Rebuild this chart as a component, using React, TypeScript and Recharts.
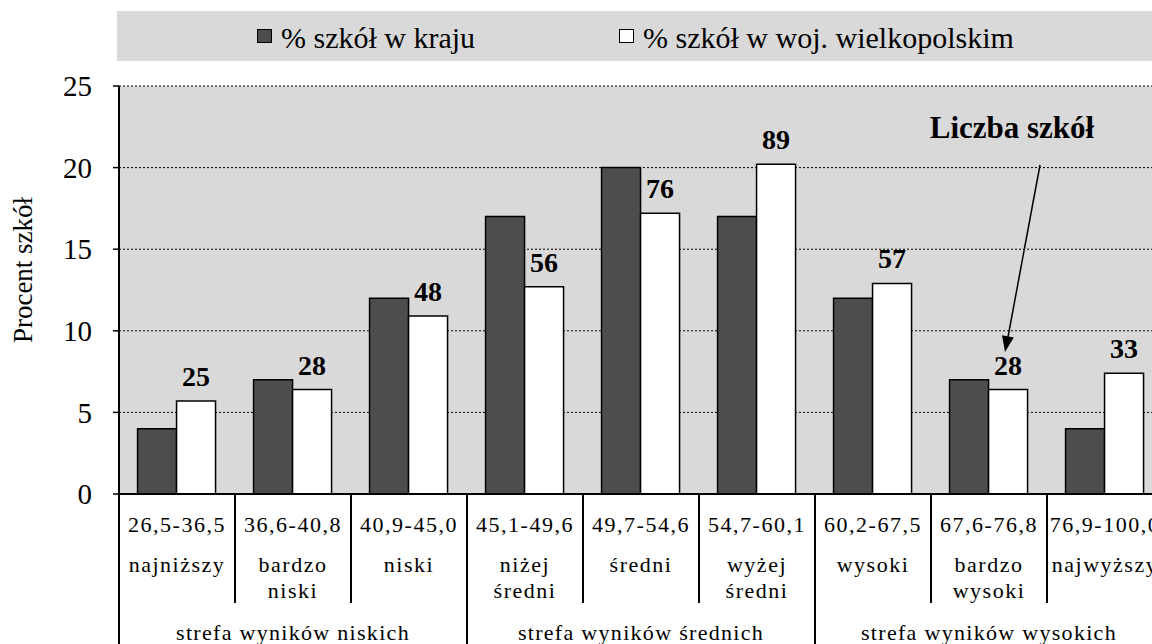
import { BarChart, Bar, XAxis, YAxis, CartesianGrid, Legend, LabelList, Customized } from 'recharts'

const RANGES = ['26,5-36,5', '36,6-40,8', '40,9-45,0', '45,1-49,6', '49,7-54,6', '54,7-60,1', '60,2-67,5', '67,6-76,8', '76,9-100,0']
const LEVELS = [['najniższy'], ['bardzo', 'niski'], ['niski'], ['niżej', 'średni'], ['średni'], ['wyżej', 'średni'], ['wysoki'], ['bardzo', 'wysoki'], ['najwyższy']]
const ZONES = ['strefa wyników niskich', 'strefa wyników średnich', 'strefa wyników wysokich']
const KRAJ = [4, 7, 12, 17, 20, 17, 12, 7, 4]
const WIELKOPOLSKA = [5.7, 6.4, 10.9, 12.7, 17.2, 20.2, 12.9, 6.4, 7.4]
const COUNTS = [25, 28, 48, 56, 76, 89, 57, 28, 33]
const Y_TICKS = [0, 5, 10, 15, 20, 25]

const FONT = '"Liberation Serif", "Times New Roman", serif'
const CHART_W = 1165
const CHART_H = 644
const AXIS_W = 119
const MARGIN_RIGHT = 2
const BAND = (CHART_W - AXIS_W - MARGIN_RIGHT) / RANGES.length
const LEGEND_X = [140, 502]

const data = RANGES.map((range, i) => ({
  range,
  kraj: KRAJ[i],
  woj: WIELKOPOLSKA[i],
  count: COUNTS[i],
}))

const CategoryTick = (props: any) => {
  const { x, y, index } = props
  const half = BAND / 2
  const lines: string[] = LEVELS[index] || []
  const zoneStart = index % 3 === 0
  const zoneMid = index % 3 === 1
  return (
    <g>
      <line x1={x + half} y1={y} x2={x + half} y2={y + 109} stroke="#000" strokeWidth={2} />
      {zoneStart && <line x1={x - half} y1={y} x2={x - half} y2={y + 150} stroke="#000" strokeWidth={2} />}
      <text x={x} y={y + 38} textAnchor="middle" fontSize={22} letterSpacing={1.5} fill="#000" fontFamily={FONT}>
        {RANGES[index]}
      </text>
      {lines.map((l, k) => (
        <text key={k} x={x} y={y + 78 + k * 26} textAnchor="middle" fontSize={22} letterSpacing={1.5} fill="#000" fontFamily={FONT}>
          {l}
        </text>
      ))}
      {zoneMid && (
        <text x={x} y={y + 146} textAnchor="middle" fontSize={22} letterSpacing={1.3} fill="#000" fontFamily={FONT}>
          {ZONES[(index - 1) / 3]}
        </text>
      )}
    </g>
  )
}

const renderLegend = (props: any) => (
  <div style={{ position: 'relative', width: '100%', height: 50, background: '#d9d9d9', fontFamily: FONT }}>
    {(props.payload || []).map((p: any, i: number) => (
      <div key={p.value} style={{ position: 'absolute', left: LEGEND_X[i], top: 12, display: 'flex', alignItems: 'flex-start', whiteSpace: 'nowrap' }}>
        <span style={{ display: 'inline-block', width: 13, height: 12, border: '1.5px solid #000', background: p.color, marginTop: 6, marginRight: 9 }} />
        <span style={{ fontSize: 30, lineHeight: '30px', color: '#000' }}>{p.value}</span>
      </div>
    ))}
  </div>
)

const Annotation = () => (
  <g>
    <text x={1012} y={138} textAnchor="middle" fontSize={31} fontWeight="bold" fill="#000" fontFamily={FONT}>
      Liczba szkół
    </text>
    <line x1={1040} y1={165} x2={1008} y2={337} stroke="#000" strokeWidth={1.5} />
    <polygon points="1005,352 1013.8,337.4 1002,335.2" fill="#000" />
  </g>
)

export default function App() {
  return (
    <div style={{ position: 'absolute', left: 0, top: 0, width: 1152, height: 644, overflow: 'hidden', background: '#fff', fontFamily: FONT }}>
      <BarChart
        width={CHART_W}
        height={CHART_H}
        data={data}
        margin={{ top: 86, right: MARGIN_RIGHT, bottom: 0, left: 0 }}
        barCategoryGap="16%"
        barGap={0}
      >
        <CartesianGrid vertical={false} fill="#d9d9d9" stroke="#000" strokeDasharray="2 2" />
        <XAxis
          dataKey="range"
          height={150}
          interval={0}
          tickLine={false}
          tickSize={0}
          tickMargin={0}
          axisLine={{ stroke: '#000', strokeWidth: 2 }}
          tick={<CategoryTick />}
        />
        <YAxis
          width={AXIS_W}
          domain={[0, 25]}
          ticks={Y_TICKS}
          interval={0}
          tickSize={6}
          tickMargin={21}
          axisLine={{ stroke: '#000', strokeWidth: 2 }}
          tickLine={{ stroke: '#000', strokeWidth: 1.5 }}
          tick={{ fill: '#000', fontSize: 29, fontFamily: FONT }}
          label={{
            content: () => (
              <text x={23} y={270} transform="rotate(-90 23 270)" textAnchor="middle" dominantBaseline="central" fontSize={27} fill="#000" fontFamily={FONT}>
                Procent szkół
              </text>
            ),
          }}
        />
        <Legend
          verticalAlign="middle"
          align="center"
          layout="horizontal"
          wrapperStyle={{ top: 11, left: 117, width: 1048, height: 50 }}
          content={renderLegend}
        />
        <Bar dataKey="kraj" name="% szkół w kraju" fill="#4d4d4d" stroke="#000" strokeWidth={1.5} isAnimationActive={false} />
        <Bar dataKey="woj" name="% szkół w woj. wielkopolskim" fill="#ffffff" stroke="#000" strokeWidth={1.5} isAnimationActive={false}>
          <LabelList dataKey="count" position="top" offset={15} fontSize={28} fontWeight="bold" fill="#000" fontFamily={FONT} />
        </Bar>
        <Customized component={Annotation} />
      </BarChart>
    </div>
  )
}
